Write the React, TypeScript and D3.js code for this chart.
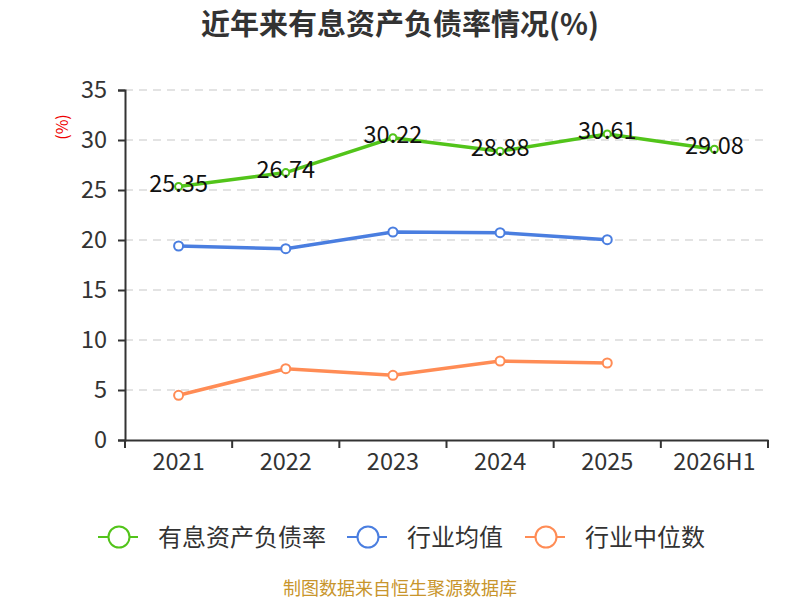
import React, { useEffect, useRef } from "react";
import * as d3 from "d3";

const categories = ["2021", "2022", "2023", "2024", "2025", "2026H1"];
const debtRatio = [25.35, 26.74, 30.22, 28.88, 30.61, 29.08];
const industryMean = [19.4, 19.13, 20.8, 20.73, 20.03];
const industryMedian = [4.47, 7.13, 6.47, 7.9, 7.7];
const yTicks = [0, 5, 10, 15, 20, 25, 30, 35];

const seriesNames = ["有息资产负债率", "行业均值", "行业中位数"];
const colors = ["#52c41a", "#4a7ee0", "#ff8c55"];

const FONT = "'Noto Sans CJK SC', 'Noto Sans', sans-serif";

export default function App() {
  const svgRef = useRef<SVGSVGElement | null>(null);

  useEffect(() => {
    if (!svgRef.current) return;
    const svg = d3.select(svgRef.current);
    svg.selectAll("*").remove();

    const margin = { top: 90, right: 32, bottom: 160, left: 125 };
    const width = 800;
    const height = 600;

    const x = d3
      .scaleBand<string>()
      .domain(categories)
      .range([margin.left, width - margin.right]);
    const y = d3
      .scaleLinear()
      .domain([0, 35])
      .range([height - margin.bottom, margin.top]);
    const cx = (c: string) => (x(c) as number) + x.bandwidth() / 2;

    // title
    svg
      .append("text")
      .attr("x", 400)
      .attr("y", 22)
      .attr("dominant-baseline", "central")
      .attr("text-anchor", "middle")
      .attr("fill", "#333")
      .style("font-size", "29px")
      .style("font-weight", "bold")
      .style("font-family", FONT)
      .text("近年来有息资产负债率情况(%)");

    // grid
    svg
      .append("g")
      .selectAll("line")
      .data(yTicks.filter((t) => t > 0))
      .enter()
      .append("line")
      .attr("x1", margin.left)
      .attr("x2", width - margin.right)
      .attr("y1", (d) => y(d))
      .attr("y2", (d) => y(d))
      .attr("stroke", "#c8c8c8")
      .attr("stroke-width", 1.2)
      .attr("stroke-dasharray", "8,6");

    // y axis
    const yAxis = svg
      .append("g")
      .attr("transform", `translate(${margin.left},0)`)
      .call(d3.axisLeft(y).tickValues(yTicks).tickSize(7).tickPadding(11));
    yAxis.select(".domain").attr("stroke", "#333").attr("stroke-width", 2);
    yAxis.selectAll(".tick line").attr("stroke", "#333").attr("stroke-width", 2);
    yAxis
      .selectAll(".tick text")
      .attr("fill", "#333")
      .style("font-size", "23.5px")
      .style("font-family", FONT);

    // x axis
    const xAxis = svg
      .append("g")
      .attr("transform", `translate(0,${height - margin.bottom})`)
      .call(d3.axisBottom(x).tickSize(0).tickPadding(13));
    xAxis.select(".domain").attr("stroke", "#333").attr("stroke-width", 2);
    xAxis
      .selectAll(".tick text")
      .attr("fill", "#333")
      .style("font-size", "23.5px")
      .style("font-family", FONT);
    xAxis
      .selectAll(".sep")
      .data(categories.concat(["end"]))
      .enter()
      .append("line")
      .attr("x1", (d, i) => (i < categories.length ? (x(d) as number) : width - margin.right))
      .attr("x2", (d, i) => (i < categories.length ? (x(d) as number) : width - margin.right))
      .attr("y1", 0)
      .attr("y2", 8)
      .attr("stroke", "#333")
      .attr("stroke-width", 2);

    // unit label
    svg
      .append("text")
      .attr("transform", `translate(68,127) rotate(-90)`)
      .attr("text-anchor", "middle")
      .attr("fill", "#e00")
      .style("font-size", "16px")
      .style("font-family", FONT)
      .text("(%)");

    const line = d3
      .line<number>()
      .x((_, i) => cx(categories[i]))
      .y((d) => y(d));

    const seriesData = [debtRatio, industryMean, industryMedian];
    const radii = [3.5, 4.5, 4.5];

    seriesData.forEach((data, si) => {
      svg
        .append("path")
        .datum(data)
        .attr("d", line)
        .attr("fill", "none")
        .attr("stroke", colors[si])
        .attr("stroke-width", 3.5);
      svg
        .append("g")
        .selectAll("circle")
        .data(data)
        .enter()
        .append("circle")
        .attr("cx", (_, i) => cx(categories[i]))
        .attr("cy", (d) => y(d))
        .attr("r", radii[si])
        .attr("fill", "#fff")
        .attr("stroke", colors[si])
        .attr("stroke-width", 2);
    });

    // data labels for main series
    svg
      .append("g")
      .selectAll("text")
      .data(debtRatio)
      .enter()
      .append("text")
      .attr("x", (_, i) => cx(categories[i]))
      .attr("y", (d) => y(d) + 5)
      .attr("text-anchor", "middle")
      .attr("fill", "#111")
      .style("font-size", "23.5px")
      .style("font-family", FONT)
      .text((d) => d.toFixed(2));

    // legend
    const legendX = [98, 347, 525];
    seriesNames.forEach((name, i) => {
      const g = svg.append("g").attr("transform", `translate(${legendX[i]},537)`);
      g.append("line")
        .attr("x1", 0)
        .attr("x2", 40)
        .attr("y1", 0)
        .attr("y2", 0)
        .attr("stroke", colors[i])
        .attr("stroke-width", 2);
      g.append("circle")
        .attr("cx", 21)
        .attr("cy", 0)
        .attr("r", 10.5)
        .attr("fill", "#fff")
        .attr("stroke", colors[i])
        .attr("stroke-width", 2);
      g.append("text")
        .attr("x", 60)
        .attr("y", 9)
        .attr("fill", "#333")
        .style("font-size", "24px")
        .style("font-family", FONT)
        .text(name);
    });

    // footer
    svg
      .append("text")
      .attr("x", 400)
      .attr("y", 595)
      .attr("text-anchor", "middle")
      .attr("fill", "#c8952c")
      .style("font-size", "18px")
      .style("font-family", FONT)
      .text("制图数据来自恒生聚源数据库");
  }, []);

  return (
    <svg
      ref={svgRef}
      width={800}
      height={600}
      style={{ position: "absolute", left: 0, top: 0, background: "#fff" }}
    />
  );
}
